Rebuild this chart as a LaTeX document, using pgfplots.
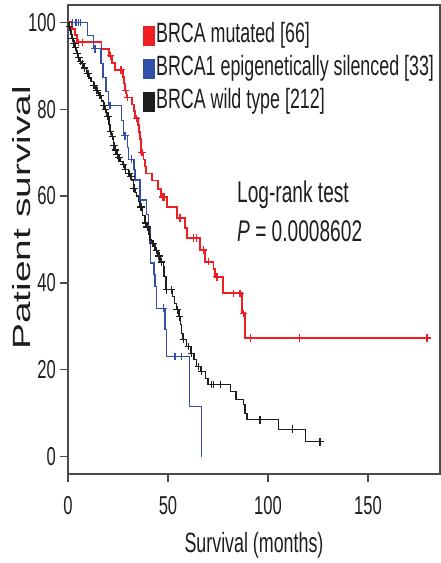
\documentclass[border=0pt]{standalone}
\usepackage{fontspec}
\setmainfont{Liberation Sans}[FakeStretch=0.64]
\newfontfamily\plainsans{Liberation Sans}
\usepackage{pgfplots}
\pgfplotsset{compat=1.18}
\definecolor{redc}{RGB}{240,30,35}
\definecolor{bluec}{RGB}{50,80,170}
\definecolor{blackc}{RGB}{30,30,30}
\definecolor{axisc}{RGB}{75,75,75}
\begin{document}
\begin{tikzpicture}
\useasboundingbox (-68bp,-89bp) rectangle (373bp,474bp);
\begin{axis}[
  at={(0,0)}, anchor=south west,
  scale only axis, width=372bp, height=469bp,
  xmin=0, xmax=186, ymin=-4, ymax=104,
  xtick={0,50,100,150}, ytick={0,20,40,60,80,100},
  tick pos=left, tick align=outside,
  major tick length=8bp,
  axis line style={draw=axisc, line width=1.5bp},
  every tick/.style={draw=axisc, line width=1.2bp},
  /pgf/number format/assume math mode=true,
  tick label style={font=\fontsize{26}{30}\selectfont, text=blackc},
  xticklabel style={inner ysep=14bp},
  yticklabel style={inner xsep=4bp},
  xlabel={Survival (months)},
  xlabel style={at={(rel axis cs:0.5,0)}, anchor=center, yshift=-71bp, font=\fontsize{28}{32}\selectfont, text=blackc},
  ylabel={\scalebox{1}[0.64]{\plainsans Patient survival}},
  ylabel style={at={(rel axis cs:0,0.546)}, anchor=center, yshift=46bp, font=\fontsize{39}{42}\selectfont, text=blackc},
  legend image code/.code={\path[#1] (0bp,-10bp) rectangle (12bp,10bp);},
  legend style={draw=none, fill=none, at={(0.192,0.967)}, anchor=north west,
    font=\fontsize{28}{32}\selectfont, text=blackc,
    row sep=7bp,
    nodes={inner xsep=1.5bp, inner ysep=0bp, text height=20bp, text depth=6bp}},
  legend cell align=left,
]
% BRCA mutated
\addplot[const plot, no markers, redc, line width=1.8bp, forget plot] coordinates {
(0,100) (2,98.5) (3.5,97.0) (4.5,95.4) (16.8,93.9) (20.7,92.3) (22.0,90.7) (23.5,89.1)
(27.7,87.5) (28.0,85.9) (28.5,84.3) (29.3,82.7) (31.8,81.1) (33.0,79.5) (33.5,77.9)
(35.0,76.3) (35.5,74.7) (36.0,73.1) (36.3,71.5) (36.6,70.0) (37.7,68.4) (38.5,66.8)
(39.0,65.2) (41.8,63.6) (45.0,61.7) (46.3,59.8) (49.3,57.4) (54.3,54.9) (58.5,52.6)
(59.3,50.3) (66.0,47.6) (68.5,44.9) (72.7,43.2) (73.5,41.4) (77.3,37.6) (87.0,33.0)
(88.3,27.3) (179.5,27.3)};
\addplot[only marks, mark=+, mark size=3.8bp, redc, line width=1.3bp, forget plot] coordinates {
(5.2,95.4) (7.3,95.4) (21.3,92.3) (26.5,89.1) (28.7,84.3) (29.8,82.7) (34.3,77.9)
(37.0,70.0) (47.5,59.8) (48.3,59.8) (56.0,54.9) (62.7,50.3) (64.3,50.3) (67.7,47.6)
(70.2,44.9) (74.5,41.4) (82.7,37.6) (86.0,37.6) (87.7,33.0) (91.3,27.3) (115.7,27.3) (179.5,27.3)};
% BRCA1 epigenetically silenced
\addplot[const plot, no markers, bluec, line width=1.2bp, forget plot] coordinates {
(0,100) (9.8,97.0) (12.7,93.9) (16.5,90.6) (17.5,87.3) (19.0,84.1) (20.2,80.9)
(26.8,77.4) (27.7,73.9) (29.6,71.2) (30.2,68.5) (33.0,66.1) (33.5,63.7) (36.0,59.1)
(39.3,55.8) (40.3,52.5) (41.0,49.2) (41.3,44.6) (43.0,41.9) (43.5,39.1) (44.3,34.2)
(48.5,29.2) (49.3,23.1) (60.7,11.6) (66.8,0)};
\addplot[only marks, mark=+, mark size=3.8bp, bluec, line width=1.2bp, forget plot] coordinates {
(2.3,100) (4.0,100) (5.2,100) (6.3,100) (13.5,93.9) (21.0,80.9) (28.5,73.9)
(31.7,68.5) (47.7,34.2) (53.5,23.1) (56.8,23.1)};
% BRCA wild type
\addplot[const plot, no markers, blackc, line width=1.2bp, forget plot] coordinates {
(0,100) (0.5,99.1) (1.0,98.2) (1.5,97.2) (2.0,96.3) (2.7,95.1) (3.3,94.2) (4.3,92.8)
(5.0,91.9) (6.0,91.0) (6.8,90.5) (7.8,89.5) (9.3,88.2) (10.5,87.2) (11.5,86.3)
(12.7,85.5) (14.0,84.3) (15.2,83.2) (16.8,81.9) (17.7,80.9) (18.5,79.9) (19.3,78.4)
(20.5,76.5) (21.0,74.9) (21.8,73.7) (22.6,71.6) (23.5,70.6) (24.3,69.5) (25.2,68.8)
(26.0,67.9) (27.2,67.3) (28.5,66.1) (30.2,65.2) (31.0,64.5) (31.8,63.7) (32.7,61.8)
(33.5,60.9) (34.3,60.0) (35.2,58.8) (36.0,57.5) (37.2,55.6) (38.5,53.8) (39.3,52.9)
(40.5,51.2) (41.0,49.9) (41.8,49.1) (43.5,47.5) (45.0,46.2) (46.0,44.8) (47.7,43.7)
(48.0,41.5) (49.0,38.4) (52.3,36.8) (53.3,35.3) (54.3,33.8) (55.5,32.2) (56.3,30.5)
(56.8,28.4) (57.5,27.0) (59.3,25.4) (61.5,23.8) (63.0,22.3) (64.3,20.8) (66.5,19.6)
(68.8,18.0) (70.0,16.6) (81.3,15.0) (84.0,13.2) (87.8,12.0) (88.5,9.9) (89.5,8.5)
(105.2,6.3) (118.8,3.4) (126.0,3.4)};
\addplot[only marks, mark=+, mark size=3.8bp, blackc, line width=1.2bp, forget plot] coordinates {
(0.8,99.1) (2.2,96.3) (3.0,95.1) (3.8,94.2) (4.6,92.8) (5.4,91.9) (6.3,91.0) (7.2,90.5)
(8.3,89.5) (10.0,88.2) (13.0,85.5) (14.5,84.3) (16.0,83.2) (18.0,80.9) (18.8,79.9)
(20.0,78.4) (21.3,74.9) (22.2,73.7) (23.0,71.6) (23.8,70.6) (24.6,69.5) (25.5,68.8)
(27.7,67.3) (28.8,66.1) (30.5,65.2) (31.5,64.5) (33.0,61.8) (36.5,57.5) (38.8,53.8)
(39.6,52.9) (42.5,49.1) (44.3,47.5) (45.5,46.2) (46.8,44.8) (49.3,38.4) (51.8,38.4)
(54.6,33.8) (55.8,32.2) (57.7,27.0) (60.2,25.4) (61.8,23.8) (65.2,20.8) (66.9,19.6)
(71.8,16.6) (72.7,16.6) (76.3,16.6) (96.0,8.5) (112.3,6.3) (126.0,3.4)};
\addlegendimage{fill=redc, draw=none}
\addlegendentry{BRCA mutated [66]}
\addlegendimage{fill=bluec, draw=none}
\addlegendentry{BRCA1 epigenetically silenced [33]}
\addlegendimage{fill=blackc, draw=none}
\addlegendentry{BRCA wild type [212]}
\node[anchor=west, inner sep=0pt, font=\fontsize{30}{34}\selectfont, text=blackc] at (axis cs:84.5,60.2) {Log-rank test};
\node[anchor=west, inner sep=0pt, font=\fontsize{30}{34}\selectfont, text=blackc] at (axis cs:84.5,51.8) {\textit{P} = 0.0008602};
\end{axis}
\end{tikzpicture}
\end{document}
